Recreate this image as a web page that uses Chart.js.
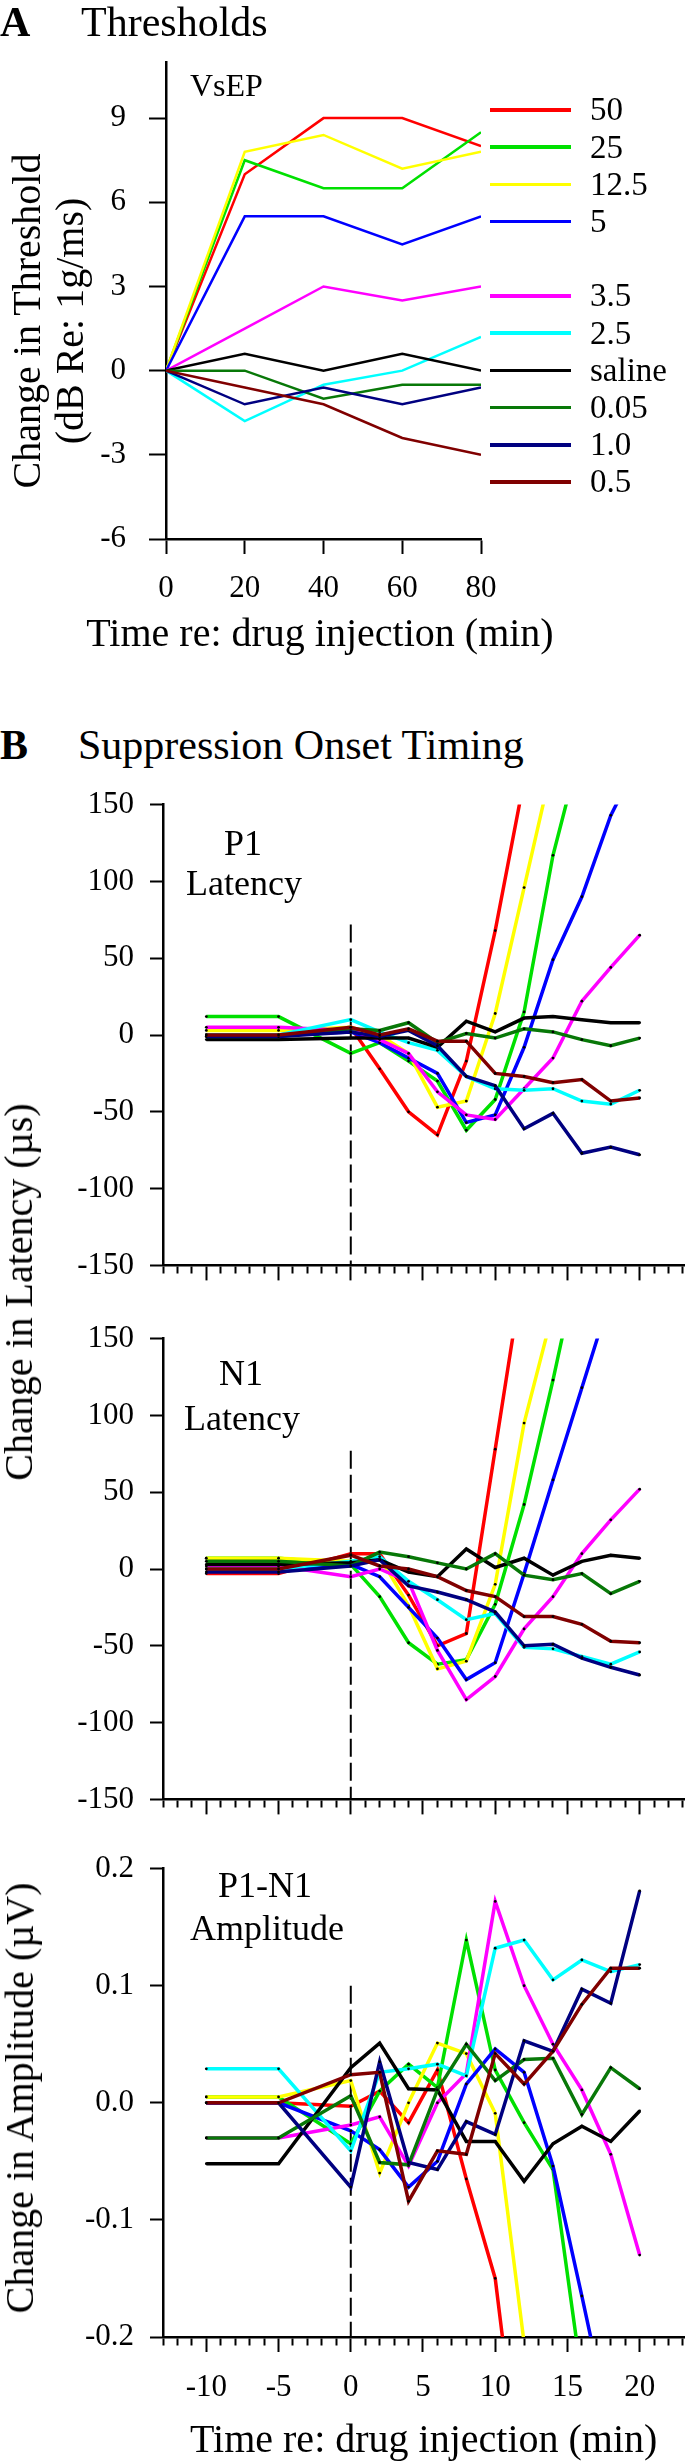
<!DOCTYPE html>
<html>
<head>
<meta charset="utf-8">
<title>VsEP thresholds and suppression onset timing</title>
<script src="https://cdn.jsdelivr.net/npm/chart.js@4.4.1/dist/chart.umd.min.js"></script>
<style>
  body { margin: 0; background: #fff; }
  #fig { position: relative; width: 700px; height: 2463px; overflow: hidden; background: #fff;
         font-family: 'Liberation Serif', 'Times New Roman', serif; color: #000; }
  #fig canvas { position: absolute; left: 0; }
  .txt { position: absolute; line-height: 1; white-space: nowrap; z-index: 2; }
  .rot { position: absolute; line-height: 1; white-space: nowrap; z-index: 2;
         transform: translate(-50%, -50%) rotate(-90deg); }
  .swatch { position: absolute; width: 81px; height: 3.5px; z-index: 2; }
</style>
</head>
<body>
<div id="fig">
  <canvas id="thresholds" width="700" height="657" style="top:0"></canvas>
  <canvas id="p1" width="700" height="530" style="top:770px"></canvas>
  <canvas id="n1" width="700" height="530" style="top:1304px"></canvas>
  <canvas id="amp" width="700" height="629" style="top:1834px"></canvas>
</div>
<script>
// doses (legend order) and their line colours
const doses = ['50', '25', '12.5', '5', '3.5', '2.5', 'saline', '0.05', '1.0', '0.5'];
const doseColors = ['#ff0000', '#00e000', '#ffff00', '#0000ff', '#ff00ff', '#00ffff', '#000000', '#087808', '#000080', '#800000'];

// panel A: threshold change (dB) at each sample time
const threshTimes = [0, 20, 40, 60, 80];
const threshTicksY = [-6, -3, 0, 3, 6, 9];
const thresholdShift = [
    [0, 7.0, 9.0, 9.0, 8.0],      // 50
    [0, 7.5, 6.5, 6.5, 8.5],      // 25
    [0, 7.8, 8.4, 7.2, 7.8],      // 12.5
    [0, 5.5, 5.5, 4.5, 5.5],      // 5
    [0, 1.5, 3.0, 2.5, 3.0],      // 3.5
    [0, -1.8, -0.5, 0.0, 1.2],    // 2.5
    [0, 0.6, 0.0, 0.6, 0.0],      // saline
    [0, 0.0, -1.0, -0.5, -0.5],   // 0.05
    [0, -1.2, -0.6, -1.2, -0.6],  // 1.0
    [0, -0.6, -1.2, -2.4, -3.0]   // 0.5
];

// panel B: onset timing, minutes re: injection
const onsetTimes = [-10, -5, 0, 2, 4, 6, 8, 10, 12, 14, 16, 18, 20];
const onsetTickLabels = [-10, -5, 0, 5, 10, 15, 20];
const onsetRange = [-13, 23.1];
const latencyTicks = [-150, -100, -50, 0, 50, 100, 150];
const ampTicks = [-0.2, -0.1, 0, 0.1, 0.2];

// P1 latency change (us)
const p1Latency = [
    [0, 0, 5, -22, -50, -65, -17, 68, 166, null, null, null, null],      // 50
    [12, 12, -12, -5, -17, -30, -62, -42, 15, 117, 190, null, null],     // 25
    [3, 3, 5, 0, -12, -47, -43, 14, 96, 178, null, null, null],          // 12.5
    [0, 0, 2, -5, -15, -25, -57, -52, -8, 49, 90, 143, 180],             // 5
    [5, 5, 3, -3, -12, -37, -52, -55, -35, -15, 22, 44, 65],             // 3.5
    [0, 0, 10, 2, -5, -10, -27, -35, -36, -35, -43, -45, -36],           // 2.5
    [-3, -3, -2, -2, -2, -8, 9, 2, 11, 12, 10, 8, 8],                    // saline
    [-1, -1, 4, 3, 8, -5, 1, -2, 4, 2, -3, -7, -2],                      // 0.05
    [-1, -1, 2, -1, 3, -7, -27, -33, -61, -51, -77, -73, -78],           // 1.0
    [0, 0, 5, 0, 4, -4, -4, -25, -27, -31, -29, -43, -41]                // 0.5
];

// N1 latency change (us)
const n1Latency = [
    [-3, -3, 10, 10, -17, -50, -42, 78, 198, null, null, null, null],    // 50
    [7, 7, 3, -18, -48, -62, -59, -23, 42, 123, 210, null, null],        // 25
    [7, 7, 5, 8, -24, -65, -60, -10, 95, 168, null, null, null],         // 12.5
    [0, 0, 3, -5, -25, -45, -72, -61, -3, 58, 118, 178, null],           // 5
    [2, 2, -5, 0, -8, -53, -85, -70, -39, -18, 10, 32, 52],              // 3.5
    [0, 0, 5, 8, -8, -20, -33, -29, -51, -52, -57, -62, -54],            // 2.5
    [3, 3, 4, 6, -2, -5, 13, 1, 7, -4, 5, 9, 7],                         // saline
    [5, 5, 2, 11, 8, 4, 0, 10, -4, -7, -3, -16, -8],                     // 0.05
    [-2, -2, 2, 6, -11, -15, -20, -28, -50, -49, -58, -64, -69],         // 1.0
    [0, 0, 9, 2, 0, -5, -14, -18, -31, -31, -36, -47, -48]               // 0.5
];

// P1-N1 amplitude change (uV)
const p1n1Amplitude = [
    [0, 0, -0.003, 0.01, -0.017, 0.028, -0.065, -0.15, -0.35, null, null, null, null],            // 50
    [0.005, 0.005, -0.035, 0.01, 0.033, 0.013, 0.139, 0.028, -0.017, -0.057, -0.236, null, null],  // 25
    [0.005, 0.005, 0.019, -0.06, 0.0, 0.051, 0.042, -0.009, -0.205, null, null, null, null],      // 12.5
    [0, 0, -0.024, -0.04, -0.072, -0.05, 0.016, 0.046, 0.026, -0.054, -0.165, -0.28, null],        // 5
    [-0.03, -0.03, -0.019, -0.012, -0.054, 0.0, 0.025, 0.172, 0.1, 0.05, 0.011, -0.044, -0.13],    // 3.5
    [0.029, 0.029, -0.041, 0.026, 0.029, 0.033, 0.023, 0.132, 0.139, 0.105, 0.122, 0.112, 0.118], // 2.5
    [-0.052, -0.052, 0.03, 0.051, 0.012, 0.011, -0.033, -0.033, -0.067, -0.035, -0.02, -0.033, -0.007], // saline
    [-0.03, -0.03, 0.006, -0.051, -0.053, 0.011, 0.05, 0.019, 0.037, 0.038, -0.01, 0.03, 0.012],   // 0.05
    [0, 0, -0.072, 0.035, -0.051, -0.057, -0.016, -0.027, 0.053, 0.044, 0.097, 0.085, 0.181],      // 1.0
    [0, 0, 0.024, 0.026, -0.084, -0.041, -0.044, 0.042, 0.016, 0.044, 0.084, 0.115, 0.115]         // 0.5
];

// top of the dashed injection marker in each panel B plot
const injectionMarkTop = [72, 77, 0.1];

Chart.defaults.font.family = "'Liberation Serif', 'Times New Roman', serif";
Chart.defaults.color = '#000';

const axisLine = { display: true, color: '#000', width: 2.5 };

function leftAxis(o) {
    return {
        type: 'linear', min: o.min, max: o.max,
        border: axisLine,
        grid: { drawOnChartArea: false, drawTicks: true, tickLength: o.tl, tickWidth: 2, tickColor: '#000' },
        ticks: { font: { size: 31 }, padding: o.pad, color: '#000', callback: o.fmt || (v => String(v)) },
        afterBuildTicks: s => { s.ticks = o.ticks.map(v => ({ value: v })); },
        afterFit: s => { s.width = o.width; }
    };
}

const minorTicks = [];
for (let t = Math.ceil(onsetRange[0]); t <= onsetRange[1]; t++) minorTicks.push(t);

function timeAxis(showLabels, height) {
    return {
        type: 'linear', min: onsetRange[0], max: onsetRange[1],
        border: axisLine,
        grid: {
            drawOnChartArea: false, tickLength: 15, tickWidth: 2, tickColor: '#000',
            tickBorderDash: c => (c.tick && onsetTickLabels.includes(c.tick.value)) ? [] : [7, 40]
        },
        ticks: {
            autoSkip: false, maxRotation: 0, minRotation: 0, padding: 17, font: { size: 31 },
            callback: v => (showLabels && onsetTickLabels.includes(v)) ? String(v) : ''
        },
        title: showLabels
            ? { display: true, text: 'Time re: drug injection (min)', font: { size: 40, lineHeight: 1.1 }, padding: 0 }
            : { display: false },
        afterBuildTicks: s => { s.ticks = minorTicks.map(v => ({ value: v })); },
        afterFit: s => { s.height = height; }
    };
}

function series(rows, xs, width, dot) {
    return rows.map((row, i) => ({
        label: doses[i],
        data: xs.map((x, j) => ({ x: x, y: row[j] })),
        borderColor: doseColors[i],
        borderWidth: width,
        pointRadius: dot,
        pointBackgroundColor: '#000',
        pointBorderWidth: 0,
        tension: 0,
        clip: 0,
        order: doses.length - i
    }));
}

function injectionLine(top, bottom) {
    return {
        label: 'injection',
        data: [{ x: 0, y: top }, { x: 0, y: bottom }],
        borderColor: '#000', borderWidth: 2, borderDash: [18, 6],
        pointRadius: 0, order: 99
    };
}

const baseOptions = {
    responsive: false, animation: false, events: [],
    plugins: { legend: { display: false }, tooltip: { enabled: false } }
};

// panel A
new Chart(document.getElementById('thresholds'), {
    type: 'line',
    data: { datasets: series(thresholdShift, threshTimes, 2.5, 0) },
    options: Object.assign({}, baseOptions, {
        layout: { padding: { top: 62, right: 219, left: 0, bottom: 0 } },
        scales: {
            x: {
                type: 'linear', min: 0, max: 80,
                border: axisLine,
                grid: { drawOnChartArea: false, tickLength: 15, tickWidth: 2, tickColor: '#000' },
                ticks: { font: { size: 31 }, padding: 16, maxRotation: 0, autoSkip: false },
                afterBuildTicks: s => { s.ticks = threshTimes.map(v => ({ value: v })); },
                afterFit: s => { s.height = 118; }
            },
            y: leftAxis({ min: -6, max: 11, ticks: threshTicksY, width: 166, tl: 17, pad: 23 })
        }
    })
});

// panel B
function onsetChart(id, rows, yTicks, fmt, padTop, xHeight, showX, markTop) {
    new Chart(document.getElementById(id), {
        type: 'line',
        data: { datasets: series(rows, onsetTimes, 3.5, 1.4).concat([injectionLine(markTop, yTicks[0])]) },
        options: Object.assign({}, baseOptions, {
            layout: { padding: { top: padTop, right: 0, left: 0, bottom: 0 } },
            scales: {
                x: timeAxis(showX, xHeight),
                y: leftAxis({ min: yTicks[0], max: yTicks[yTicks.length - 1], ticks: yTicks, width: 163, tl: 13, pad: 16, fmt: fmt })
            }
        })
    });
}

onsetChart('p1', p1Latency, latencyTicks, null, 34, 20, false, injectionMarkTop[0]);
onsetChart('n1', n1Latency, latencyTicks, null, 34, 20, false, injectionMarkTop[1]);
onsetChart('amp', p1n1Amplitude, ampTicks, v => v.toFixed(1), 31, 126, true, injectionMarkTop[2]);

// text
const fig = document.getElementById('fig');
function label(text, x, baseline, size, opts) {
    opts = opts || {};
    const d = document.createElement('div');
    d.className = 'txt';
    d.textContent = text;
    d.style.fontSize = size + 'px';
    d.style.left = x + 'px';
    d.style.top = (baseline - 0.8375 * size) + 'px';
    if (opts.bold) d.style.fontWeight = 'bold';
    if (opts.center) d.style.transform = 'translateX(-50%)';
    fig.appendChild(d);
}
function vlabel(text, cx, cy, size) {
    const d = document.createElement('div');
    d.className = 'rot';
    d.textContent = text;
    d.style.fontSize = size + 'px';
    d.style.left = cx + 'px';
    d.style.top = cy + 'px';
    fig.appendChild(d);
}

label('A', 0, 36, 42, { bold: true });
label('Thresholds', 81, 36, 42);
label('VsEP', 190, 96, 32);
vlabel('Change in Threshold', 27, 321, 40);
vlabel('(dB Re: 1g/ms)', 70, 321, 40);
label('Time re: drug injection (min)', 320, 646, 40, { center: true });

// legend (gap after the 5 mg/kg row)
const legendGapAfter = 3;
doses.forEach((d, i) => {
    const slot = i + (i > legendGapAfter ? 1 : 0);
    const y = 110 + slot * 37.2;
    const sw = document.createElement('div');
    sw.className = 'swatch';
    sw.style.left = '490px';
    sw.style.top = (y - 1.75) + 'px';
    sw.style.background = doseColors[i];
    fig.appendChild(sw);
    label(d, 590, y + 11, 33);
});

label('B', 0, 759, 42, { bold: true });
label('Suppression Onset Timing', 78, 759, 42);
label('P1', 243, 855, 36, { center: true });
label('Latency', 244, 895, 36, { center: true });
label('N1', 241, 1385, 36, { center: true });
label('Latency', 242, 1430, 36, { center: true });
label('P1-N1', 265, 1897, 36, { center: true });
label('Amplitude', 267, 1940, 36, { center: true });
vlabel('Change in Latency (\u00b5s)', 19, 1292, 40);
vlabel('Change in Amplitude (\u00b5V)', 20, 2098, 40);
</script>
</body>
</html>
